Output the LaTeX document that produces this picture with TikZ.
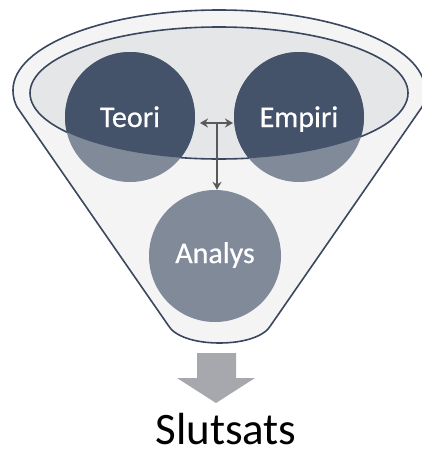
\documentclass[tikz,border=0pt]{standalone}
\usepackage{fontspec}
\setmainfont{Carlito}
\usetikzlibrary{arrows.meta,calc}
\definecolor{rimline}{HTML}{3A475F}
\definecolor{funnelfill}{HTML}{F4F4F4}
\definecolor{bowlfill}{HTML}{E5E6E8}
\definecolor{discdark}{HTML}{44526A}
\definecolor{disclight}{HTML}{808A98}
\definecolor{linkgrey}{HTML}{595959}
\definecolor{outgrey}{HTML}{A6A8AE}
\tikzset{
  disc/.style={circle, minimum size=130pt, inner sep=0pt, text=white,
    font=\fontsize{30}{36}\selectfont\addfontfeature{FakeBold=0.6},
    text height=20pt, text depth=0pt},
  linktip/.tip={Stealth[length=8pt,width=9pt]},
  link/.style={draw=linkgrey, line width=1.8pt},
}
\begin{document}
\begin{tikzpicture}[x=1pt,y=-1pt]
\useasboundingbox (0,0) rectangle (421,450);
% funnel: top rim and tapering body
\draw[rimline, line width=1.6pt, fill=funnelfill]
  (13,90) arc[start angle=180, end angle=0, x radius=206pt, y radius=80pt]
  .. controls (425,98) and (424,103) .. (422,107)
  -- (271,325)
  .. controls (265,336) and (245,343) .. (219.5,343)
  .. controls (194,343) and (174,336) .. (168,325)
  -- (17,107)
  .. controls (15,103) and (13,98) .. cycle;
% inner opening of the funnel
\draw[rimline, line width=1.6pt, fill=bowlfill]
  (219,93) ellipse[x radius=189pt, y radius=66pt];
% discs, lighter where they leave the opening
\fill[disclight] (130,117) circle[radius=65pt];
\fill[disclight] (299,117) circle[radius=65pt];
\fill[disclight] (215,256) circle[radius=66pt];
\begin{scope}
  \clip (219,93) ellipse[x radius=189pt, y radius=66pt];
  \fill[discdark] (130,117) circle[radius=65pt];
  \fill[discdark] (299,117) circle[radius=65pt];
\end{scope}
% disc labels
\node[disc] (teori) at (130,117) {Teori};
\node[disc] (empiri) at (299,117) {Empiri};
\node[disc, minimum size=132pt, text depth=6pt] (analys) at (215,256) {Analys};
% connectors
\coordinate (hl) at (200,123);
\coordinate (hr) at (233,123);
\coordinate (hub) at (217,123);
\draw[link, linktip-linktip] (hl) -- (hr);
\draw[link, -linktip] (hub) -- (hub |- analys.north);
% outflow arrow and result
\fill[outgrey] (197,353) -- (236,353) -- (236,378) -- (255,378)
  -- (216,403) -- (177,378) -- (197,378) -- cycle;
\node[font=\fontsize{45}{54}\selectfont, anchor=base, inner sep=0pt,
  text depth=0pt] (slutsats) at (226,444) {Slutsats};
\end{tikzpicture}
\end{document}
